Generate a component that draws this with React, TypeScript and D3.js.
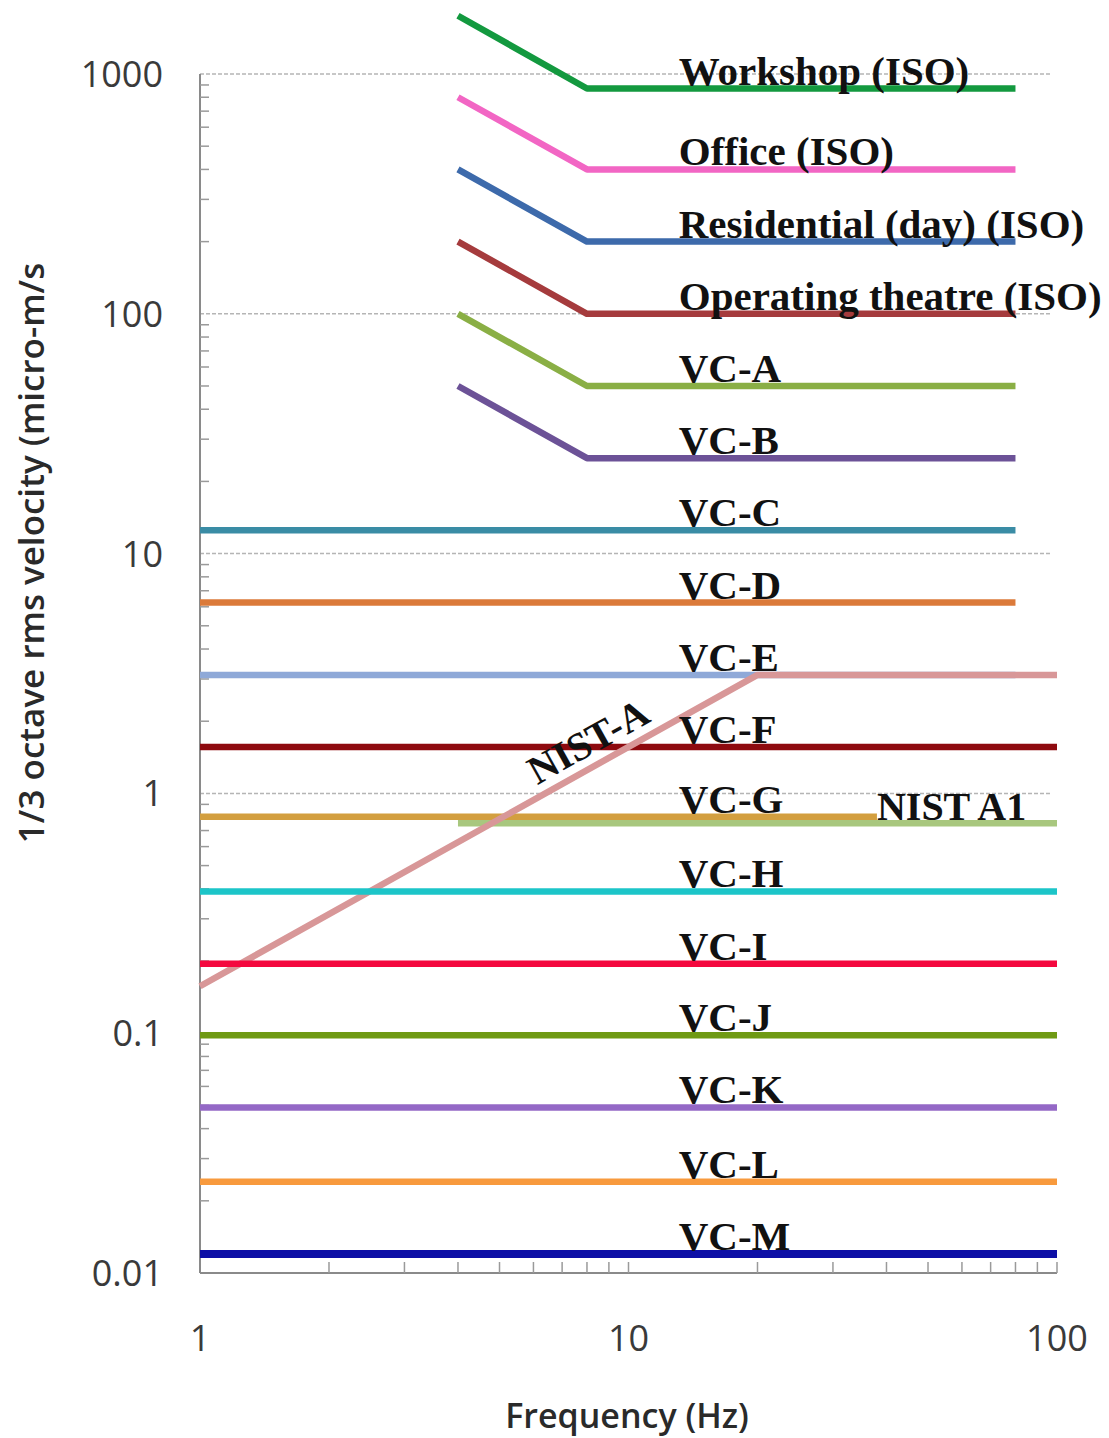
import React, { useEffect, useRef } from "react";
import * as d3 from "d3";

const W = 1109;
const H = 1438;

// frequency breakpoints (Hz)
const isoFreqs = [4, 8, 80];
const freqs80 = [1, 80];
const freqs100 = [1, 100];
const vcGFreqs = [1, 38];
const nistAFreqs = [1, 20, 100];
const nistA1Freqs = [4, 100];

// 1/3 octave rms velocity (micro-m/s)
const workshop = [1750, 870, 870];
const office = [800, 400, 400];
const residential = [400, 200, 200];
const operating = [200, 100, 100];
const vcA = [100, 50, 50];
const vcB = [50, 25, 25];
const vcC = [12.5, 12.5];
const vcD = [6.25, 6.25];
const vcE = [3.12, 3.12];
const vcF = [1.56, 1.56];
const vcG = [0.8, 0.8];
const nistA1 = [0.75, 0.75];
const nistA = [0.157, 3.12, 3.12];
const vcH = [0.39, 0.39];
const vcI = [0.195, 0.195];
const vcJ = [0.098, 0.098];
const vcK = [0.049, 0.049];
const vcL = [0.024, 0.024];
const vcM = [0.012, 0.012];

const yTicks = [0.01, 0.1, 1, 10, 100, 1000];
const xTicks = [1, 10, 100];
const labelFreq = 13.1;

export default function App() {
  const ref = useRef<SVGSVGElement>(null);

  useEffect(() => {
    const svg = d3.select(ref.current);
    svg.selectAll("*").remove();

    const x = d3.scaleLog().domain([1, 100]).range([200, 1057]);
    const y = d3.scaleLog().domain([0.01, 1000]).range([1273, 74]);

    const series = [
      { name: "Workshop (ISO)", f: isoFreqs, v: workshop, color: "#13993f" },
      { name: "Office (ISO)", f: isoFreqs, v: office, color: "#f266c4" },
      { name: "Residential (day) (ISO)", f: isoFreqs, v: residential, color: "#3d6aab" },
      { name: "Operating theatre (ISO)", f: isoFreqs, v: operating, color: "#a53b3d" },
      { name: "VC-A", f: isoFreqs, v: vcA, color: "#8aaf45" },
      { name: "VC-B", f: isoFreqs, v: vcB, color: "#6c5297" },
      { name: "VC-C", f: freqs80, v: vcC, color: "#3a8ca5" },
      { name: "VC-D", f: freqs80, v: vcD, color: "#db7a3a" },
      { name: "VC-E", f: freqs80, v: vcE, color: "#8fa9d8" },
      { name: "VC-F", f: freqs100, v: vcF, color: "#8e0a0f" },
      { name: "VC-G", f: vcGFreqs, v: vcG, color: "#d39f3f" },
      { name: "NIST A1", f: nistA1Freqs, v: nistA1, color: "#a8c77e" },
      { name: "NIST-A", f: nistAFreqs, v: nistA, color: "#d89798" },
      { name: "VC-H", f: freqs100, v: vcH, color: "#1cc5c8" },
      { name: "VC-I", f: freqs100, v: vcI, color: "#f4083e" },
      { name: "VC-J", f: freqs100, v: vcJ, color: "#6f9a14" },
      { name: "VC-K", f: freqs100, v: vcK, color: "#9468c6" },
      { name: "VC-L", f: freqs100, v: vcL, color: "#f89a3d" },
      { name: "VC-M", f: freqs100, v: vcM, color: "#0d0fa6" },
    ];

    // gridlines
    svg
      .append("g")
      .selectAll("line")
      .data(yTicks.slice(1))
      .join("line")
      .attr("x1", x(1))
      .attr("x2", x(100) - 5)
      .attr("y1", (d) => y(d))
      .attr("y2", (d) => y(d))
      .attr("stroke", "#b5b5b5")
      .attr("stroke-width", 1.5)
      .attr("stroke-dasharray", "4,2");

    // y axis
    const yMinor: number[] = [];
    [0.01, 0.1, 1, 10, 100].forEach((d) => {
      for (let k = 2; k <= 9; k++) yMinor.push(d * k);
    });
    svg
      .append("line")
      .attr("x1", x(1))
      .attr("x2", x(1))
      .attr("y1", y(1000))
      .attr("y2", y(0.01))
      .attr("stroke", "#8a8a8a")
      .attr("stroke-width", 2);
    svg
      .append("g")
      .selectAll("line")
      .data(yMinor)
      .join("line")
      .attr("x1", x(1))
      .attr("x2", x(1) + 9)
      .attr("y1", (d) => y(d))
      .attr("y2", (d) => y(d))
      .attr("stroke", "#9a9a9a")
      .attr("stroke-width", 1.5);
    svg
      .append("g")
      .selectAll("text")
      .data(yTicks)
      .join("text")
      .attr("x", 163)
      .attr("y", (d) => y(d) + 13)
      .attr("text-anchor", "end")
      .attr("font-family", "Open Sans")
      .attr("font-size", 36)
      .attr("fill", "#3a3a3a")
      .text((d) => String(d));

    // x axis
    const xMinor: number[] = [];
    [1, 10].forEach((d) => {
      for (let k = 2; k <= 10; k++) xMinor.push(d * k);
    });
    svg
      .append("line")
      .attr("x1", x(1))
      .attr("x2", x(100))
      .attr("y1", y(0.01))
      .attr("y2", y(0.01))
      .attr("stroke", "#8a8a8a")
      .attr("stroke-width", 2);
    svg
      .append("g")
      .selectAll("line")
      .data(xMinor)
      .join("line")
      .attr("x1", (d) => x(d))
      .attr("x2", (d) => x(d))
      .attr("y1", y(0.01))
      .attr("y2", y(0.01) - 11)
      .attr("stroke", "#9a9a9a")
      .attr("stroke-width", 1.5);
    svg
      .append("g")
      .selectAll("text")
      .data(xTicks)
      .join("text")
      .attr("x", (d) => x(d))
      .attr("y", 1351)
      .attr("text-anchor", "middle")
      .attr("font-family", "Open Sans")
      .attr("font-size", 36)
      .attr("fill", "#3a3a3a")
      .text((d) => String(d));

    // axis titles
    svg
      .append("text")
      .attr("x", 627)
      .attr("y", 1428)
      .attr("text-anchor", "middle")
      .attr("font-family", "Open Sans")
      .attr("font-weight", 600)
      .attr("font-size", 34)
      .attr("fill", "#2a2a2a")
      .text("Frequency (Hz)");
    svg
      .append("text")
      .attr("transform", "translate(44,553) rotate(-90)")
      .attr("text-anchor", "middle")
      .attr("font-family", "Open Sans")
      .attr("font-weight", 600)
      .attr("font-size", 35)
      .attr("fill", "#2a2a2a")
      .text("1/3 octave rms velocity (micro-m/s");

    // criterion lines
    const line = d3
      .line<[number, number]>()
      .x((d) => x(d[0]))
      .y((d) => y(d[1]));
    svg
      .append("g")
      .selectAll("path")
      .data(series)
      .join("path")
      .attr("d", (s) => line(s.f.map((f, i) => [f, s.v[i]] as [number, number])))
      .attr("fill", "none")
      .attr("stroke", (s) => s.color)
      .attr("stroke-width", (s) => (s.name === "VC-M" ? 8 : 6.5))
      .attr("stroke-linejoin", "round");

    // labels
    const labelled = series.filter((s) => !s.name.startsWith("NIST"));
    svg
      .append("g")
      .selectAll("text")
      .data(labelled)
      .join("text")
      .attr("x", x(labelFreq))
      .attr("y", (s) => y(s.v[s.v.length - 1]) - 4)
      .attr("font-family", "Liberation Serif")
      .attr("font-weight", "bold")
      .attr("font-size", 41)
      .attr("fill", "#111")
      .text((s) => s.name);

    svg
      .append("text")
      .attr("x", x(38))
      .attr("y", y(nistA1[0]) - 3)
      .attr("font-family", "Liberation Serif")
      .attr("font-weight", "bold")
      .attr("font-size", 40)
      .attr("fill", "#111")
      .text("NIST A1");

    // NIST-A label along the rising slope
    const f0 = 5.8;
    const v0 = nistA[0] * f0;
    const angle =
      (Math.atan2(y(nistA[1]) - y(nistA[0]), x(nistAFreqs[1]) - x(nistAFreqs[0])) * 180) / Math.PI;
    svg
      .append("text")
      .attr("transform", `translate(${x(f0) + 10},${y(v0) - 18}) rotate(${angle})`)
      .attr("font-family", "Liberation Serif")
      .attr("font-weight", "bold")
      .attr("font-size", 40)
      .attr("fill", "#111")
      .text("NIST-A");
  }, []);

  return (
    <svg
      ref={ref}
      width={W}
      height={H}
      style={{ position: "absolute", left: 0, top: 0, background: "#fff" }}
    />
  );
}
